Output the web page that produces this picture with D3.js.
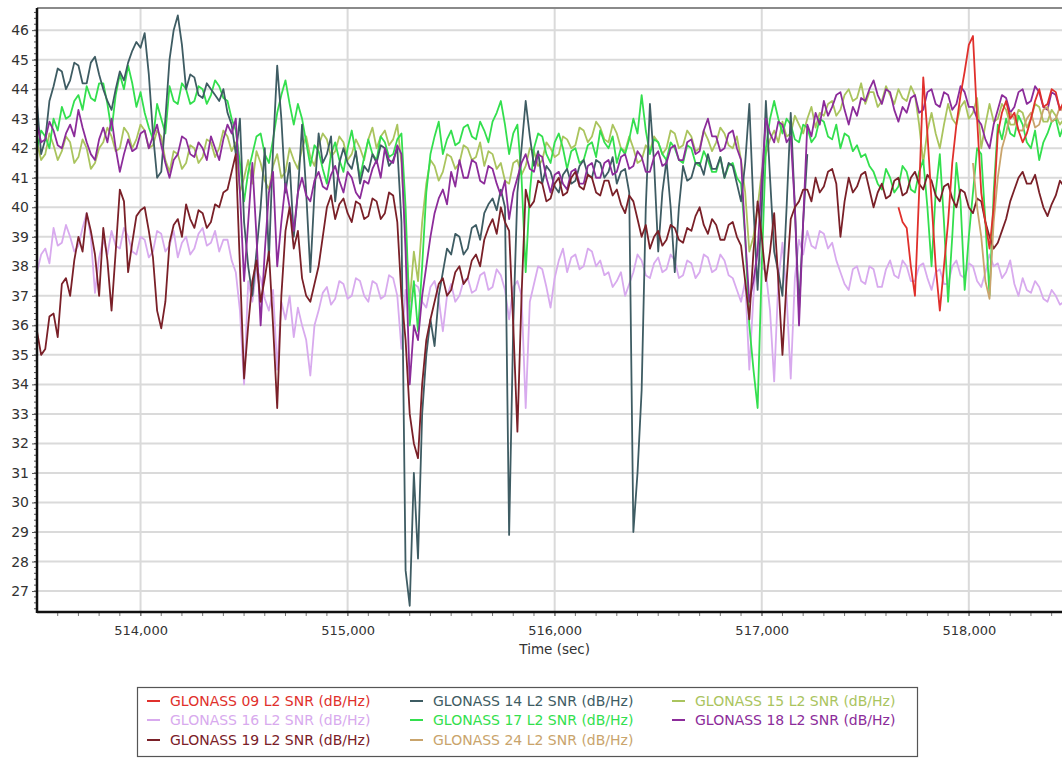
<!DOCTYPE html>
<html>
<head>
<meta charset="utf-8">
<script src="https://cdn.jsdelivr.net/npm/d3@7"></script>
<style>
  html, body { margin: 0; padding: 0; background: #fff; }
  svg { display: block; font-family: "DejaVu Sans", Verdana, sans-serif; }
</style>
</head>
<body>
<svg id="chart" width="1062" height="758"></svg>
<script>
// ---------------- DATA ----------------
const sampleStart = 513500;   // seconds
const sampleStep = 20;        // seconds between samples

const seriesNames = [
  "GLONASS 09 L2 SNR (dB/Hz)", "GLONASS 14 L2 SNR (dB/Hz)", "GLONASS 15 L2 SNR (dB/Hz)",
  "GLONASS 16 L2 SNR (dB/Hz)", "GLONASS 17 L2 SNR (dB/Hz)", "GLONASS 18 L2 SNR (dB/Hz)",
  "GLONASS 19 L2 SNR (dB/Hz)", "GLONASS 24 L2 SNR (dB/Hz)"
];
const seriesColors = ["#e0302c", "#3e5c63", "#aac45e", "#d8aaee", "#33df4e", "#8c2c9a", "#7a2028", "#c9a46c"];

const xTicks = [514000, 515000, 516000, 517000, 518000];
const yTicks = [27, 28, 29, 30, 31, 32, 33, 34, 35, 36, 37, 38, 39, 40, 41, 42, 43, 44, 45, 46];

// GLONASS 09 starts at 517660 s
const g09Start = 517660;
const g09 = [40.0,39.5, 39.3,38.0, 37.0,40.5, 44.4,42.5, 40.2,38.0, 36.5,38.0, 39.5,41.5, 42.8,43.8, 44.6,45.5, 45.8,43.0,
  40.5,39.5, 38.6,40.0, 42.5,43.2, 43.6,43.0, 43.2,42.6, 42.2,42.5, 43.0,43.6, 44.0,43.4, 43.5,44.0, 43.9,43.3, 43.6];

// GLONASS 14 (ends ~517,200 s)
const g14Start = 513500;
const g14 = [
  43.5,41.8, 42.3,43.6, 44.1,44.7, 44.6,44.0, 44.3,44.9, 44.8,44.2, 44.2,44.9, 45.1,44.5, 44.0,43.6, 43.3,44.0,
  44.6,44.3, 44.9,45.3, 45.6,45.4, 45.9,44.5, 42.5,41.0, 41.2,43.0, 45.0,46.0, 46.5,45.5, 44.0,44.5, 44.4,43.8,
  43.7,44.2, 44.0,43.8, 43.6,44.0, 43.2,42.8, 41.8,43.0, 39.5,38.0, 37.0,38.5, 40.0,42.0, 38.2,42.0, 44.8,43.0,
  40.5,41.5, 39.0,40.5, 42.8,40.5, 37.8,40.5, 42.5,41.5, 41.8,42.4, 40.2,41.5, 42.0,41.5, 41.3,41.9, 40.8,41.4,
  41.2,41.8, 41.5,42.1, 42.0,41.4, 41.6,42.0, 39.5,27.7, 26.5,31.0, 28.1,33.0, 35.0,36.2, 35.3,37.0, 37.8,38.6,
  38.4,39.1, 39.0,38.4, 38.6,39.3, 39.4,38.9, 39.8,40.1, 40.3,39.9, 40.6,40.0, 28.9,36.0, 40.5,42.0, 43.6,42.4,
  41.4,41.9, 40.8,41.4, 41.2,40.7, 40.5,41.1, 41.3,40.8, 40.9,41.4, 41.6,41.1, 41.0,41.6, 41.5,41.0, 41.2,41.7,
  40.8,41.2, 41.3,40.5, 29.0,31.0, 33.8,40.0, 43.5,41.5, 38.5,40.5, 41.6,40.0, 37.8,40.0, 41.4,40.9, 41.0,41.5,
  41.5,41.1, 41.8,41.3, 41.3,41.7, 41.0,41.5, 41.4,40.8, 40.2,41.5, 43.5,40.0, 37.2,40.0, 43.6,41.0, 38.5,37.8,
  37.0,40.0, 43.2,40.0, 36.5,39.5, 41.8
];

const g15 = [
  42.2,41.6, 41.8,42.5, 42.1,41.6, 41.9,42.4, 42.2,41.5, 41.7,42.3, 42.0,41.3, 41.5,42.0, 42.2,42.7, 42.4,41.9,
  42.0,42.7, 42.5,42.0, 42.3,42.8, 42.6,42.0, 42.1,42.6, 42.4,41.6, 41.2,41.9, 41.8,41.3, 41.5,42.1, 42.0,41.5,
  41.7,42.3, 42.2,41.7, 42.0,42.6, 42.4,41.9, 42.2,40.5, 41.0,41.6, 40.8,41.9, 41.5,40.9, 40.6,41.4, 41.8,41.0,
  41.2,42.0, 41.6,41.3, 42.0,42.4, 41.7,41.4, 42.1,42.5, 42.3,41.7, 41.9,42.4, 42.2,41.6, 41.8,42.3, 42.0,41.6,
  42.3,42.7, 42.0,42.4, 42.6,42.1, 42.3,42.8, 41.5,39.0, 36.8,38.5, 37.5,39.5, 40.8,41.6, 41.4,40.9, 41.2,41.8,
  41.7,41.3, 41.5,42.1, 42.0,41.6, 41.7,42.2, 41.4,41.9, 41.8,41.3, 41.5,40.9, 40.8,41.5, 41.6,41.1, 41.4,42.0,
  41.9,41.4, 41.6,42.2, 42.0,41.7, 41.8,42.4, 42.3,42.0, 42.1,42.7, 42.6,42.2, 42.4,42.9, 42.7,42.3, 42.2,42.8,
  42.5,42.0, 41.9,42.4, 42.0,41.5, 41.6,42.1, 41.9,42.4, 42.2,41.8, 42.0,42.6, 42.5,42.0, 42.1,42.6, 42.4,41.9,
  42.0,42.6, 42.3,41.9, 42.2,42.7, 42.5,42.1, 42.0,42.4, 41.6,40.5, 38.5,39.0, 40.0,41.2, 41.8,42.3, 42.6,42.2,
  42.9,42.4, 42.5,43.1, 42.8,42.5, 43.0,43.4, 42.7,43.2, 43.1,43.5, 43.6,43.1, 43.3,43.8, 44.0,43.6, 43.7,44.2,
  43.5,43.9, 43.9,43.4, 43.6,44.1, 43.8,43.5, 44.0,43.7, 43.6,44.1, 43.8,42.8, 41.5,42.6, 43.2,42.5, 42.0,42.8,
  43.5,43.0, 42.8,43.4, 43.6,43.0, 43.2,43.7, 42.0,42.8, 43.5,42.9, 43.0,43.5, 43.3,42.8, 42.8,43.3, 43.2,42.7,
  43.0,43.5, 43.4,42.9, 42.9,43.3, 43.1,42.8, 43.0
];

const g16 = [
  37.8,38.4, 38.6,38.1, 39.3,38.7, 38.8,39.4, 39.0,38.5, 38.7,39.3, 39.8,39.0, 37.1,38.3, 38.9,38.4, 39.2,38.7,
  38.6,39.3, 39.0,38.5, 38.4,39.0, 38.9,38.3, 38.5,39.2, 39.1,38.5, 38.7,39.2, 38.3,38.8, 39.0,38.4, 38.6,39.1,
  39.3,38.7, 38.8,39.2, 38.5,38.9, 38.9,38.2, 37.8,36.5, 34.0,37.5, 36.8,37.9, 37.6,36.9, 36.5,37.2, 34.5,36.8,
  36.2,37.0, 35.6,36.6, 36.0,35.5, 34.3,36.0, 36.5,37.1, 37.3,36.7, 36.9,37.5, 37.4,36.9, 37.0,37.6, 37.5,37.0,
  36.8,37.5, 37.4,36.9, 37.0,37.7, 37.6,37.0, 35.2,37.2, 36.5,37.4, 37.3,36.8, 36.6,37.3, 37.5,36.9, 35.8,37.0,
  37.4,36.8, 37.0,37.5, 37.6,37.1, 37.2,37.7, 37.8,37.2, 37.3,37.9, 37.7,37.2, 36.2,37.3, 37.5,37.0, 33.2,36.8,
  37.4,38.0, 37.9,37.3, 36.6,37.6, 38.2,38.6, 37.8,38.3, 38.4,37.9, 38.0,38.6, 38.5,38.0, 38.2,37.7, 37.8,37.3,
  37.5,37.8, 37.0,37.4, 37.8,38.4, 38.2,37.7, 37.6,38.1, 38.3,37.8, 37.9,38.4, 38.2,37.6, 37.7,38.2, 38.1,37.6,
  37.8,38.4, 38.3,37.8, 37.9,38.4, 38.2,37.7, 37.6,37.2, 36.8,37.5, 34.5,37.0, 38.6,38.0, 37.8,36.5, 34.1,37.5,
  38.8,37.0, 34.2,37.6, 38.9,38.4, 39.2,38.7, 38.6,39.2, 39.1,38.6, 38.8,38.2, 37.8,37.4, 37.2,37.9, 38.0,37.5,
  37.4,38.0, 37.9,37.3, 37.3,37.9, 38.2,37.7, 37.6,38.2, 38.0,37.5, 37.5,38.0, 38.1,37.6, 37.2,37.8, 37.9,37.4,
  37.4,38.0, 38.2,37.7, 37.6,38.1, 38.0,37.5, 37.3,37.8, 38.4,38.0, 38.1,37.6, 37.8,38.2, 37.4,37.0, 37.6,37.2,
  37.1,37.5, 37.3,36.9, 36.8,37.2, 37.0,36.7, 36.8
];

const g17 = [
  42.0,42.6, 42.4,42.0, 43.0,42.6, 43.4,43.0, 43.1,43.6, 43.8,43.3, 44.1,43.7, 43.6,44.2, 44.2,43.5, 42.6,43.8,
  44.5,44.0, 44.8,44.2, 43.4,43.9, 43.2,42.7, 42.3,43.5, 43.0,42.5, 44.1,43.6, 43.5,44.2, 44.0,43.5, 43.6,44.1,
  44.0,43.5, 43.8,44.3, 44.1,43.7, 43.6,43.0, 42.6,41.5, 40.2,41.2, 41.8,42.4, 42.5,41.8, 41.5,42.3, 43.2,43.8,
  44.3,43.5, 42.8,43.5, 43.0,42.2, 41.4,42.1, 41.9,41.3, 40.8,41.8, 42.2,41.6, 41.2,42.0, 42.6,41.8, 41.0,41.7,
  42.3,41.8, 41.6,42.4, 42.2,41.7, 41.8,42.3, 42.5,40.0, 36.0,37.5, 35.8,38.0, 40.5,41.8, 42.4,42.9, 41.8,42.3,
  42.6,42.1, 42.2,42.7, 42.8,42.4, 42.3,42.9, 42.6,42.2, 42.9,43.2, 43.6,42.8, 41.8,42.5, 42.8,41.0, 37.8,40.5,
  42.0,42.5, 42.4,41.8, 41.5,42.2, 42.5,42.0, 41.3,41.9, 42.0,41.5, 41.6,42.1, 42.2,41.7, 42.6,42.2, 42.0,42.4,
  41.5,42.0, 41.8,42.3, 43.0,42.5, 43.8,42.6, 41.8,42.3, 42.2,41.8, 41.6,42.2, 42.0,41.6, 41.5,42.1, 42.0,41.5,
  41.4,41.9, 41.6,41.2, 41.2,41.7, 41.0,41.4, 41.5,41.0, 40.8,39.0, 36.0,34.5, 33.2,38.0, 42.0,43.0, 43.6,43.0,
  42.5,43.0, 42.8,42.3, 42.2,42.8, 42.7,42.2, 42.4,43.0, 42.9,42.4, 42.3,42.8, 42.0,42.5, 42.4,41.9, 42.1,41.7,
  41.8,41.4, 41.2,40.8, 40.6,41.3, 41.0,40.5, 40.7,41.4, 41.2,40.6, 40.5,41.2, 41.6,40.0, 38.0,40.5, 41.8,39.5,
  36.8,39.0, 41.5,40.2, 37.2,39.0, 40.5,42.0, 41.8,39.5, 37.0,40.5, 42.8,42.3, 43.0,42.5, 42.4,43.1, 42.8,42.2,
  42.0,42.6, 41.6,42.2, 42.5,42.9, 43.0,42.4, 42.8
];

const g18 = [
  42.8,42.2, 42.3,42.9, 42.6,42.1, 42.0,42.5, 42.8,42.4, 43.3,42.7, 42.2,41.8, 41.6,42.3, 42.7,42.2, 43.0,42.0,
  41.2,41.8, 42.3,41.9, 42.0,42.5, 42.6,42.0, 42.4,42.8, 42.1,41.5, 41.0,41.6, 41.8,42.4, 42.3,41.8, 41.7,42.2,
  42.0,41.6, 42.4,42.0, 41.6,42.3, 42.8,42.5, 43.0,40.5, 37.5,39.5, 41.5,39.0, 36.0,38.5, 40.5,41.2, 38.0,39.5,
  40.8,40.0, 39.2,40.5, 41.0,40.4, 40.2,40.9, 41.2,40.7, 40.6,41.1, 41.4,40.9, 40.5,41.2, 41.0,40.5, 40.3,40.9,
  40.8,41.3, 41.6,41.0, 42.0,41.6, 41.5,42.1, 41.8,38.5, 34.0,36.0, 35.5,37.0, 38.0,39.0, 39.8,40.3, 40.6,40.1,
  41.2,40.7, 41.6,41.0, 41.0,41.6, 41.5,40.9, 40.8,41.4, 41.3,40.8, 40.4,40.9, 39.6,40.5, 41.0,41.5, 41.8,41.3,
  41.2,41.8, 41.7,41.0, 40.5,41.1, 41.2,40.8, 40.6,41.2, 41.3,40.8, 40.8,41.4, 41.5,41.0, 41.0,41.5, 41.6,41.1,
  41.2,41.7, 41.8,41.3, 41.4,41.9, 41.7,41.2, 41.2,41.7, 41.9,41.4, 41.5,42.0, 42.1,41.6, 41.6,42.2, 42.3,41.8,
  41.9,42.6, 43.0,42.4, 42.4,41.9, 42.0,42.5, 42.6,42.0, 41.6,39.0, 36.8,37.5, 38.5,41.0, 43.0,42.5, 42.2,42.9,
  42.8,42.2, 42.4,40.0, 36.0,39.5, 42.8,42.4, 43.2,42.8, 43.6,43.1, 43.4,43.8, 43.9,43.3, 42.8,43.4, 43.1,43.7,
  43.6,44.0, 44.3,43.8, 43.5,44.0, 43.9,43.3, 42.9,43.4, 43.2,43.7, 43.8,43.2, 43.3,43.9, 44.0,43.5, 43.4,43.9,
  43.8,43.3, 43.5,44.1, 43.9,43.4, 43.4,43.0, 42.8,42.3, 42.0,42.8, 43.3,43.8, 43.7,43.2, 43.4,43.9, 44.0,43.5,
  43.6,44.1, 43.9,43.4, 43.3,43.9, 43.8,43.3, 43.5
];

const g19 = [
  35.8,35.0, 35.2,36.3, 36.4,35.6, 37.4,37.6, 37.0,38.2, 39.0,38.5, 39.8,39.2, 38.4,37.0, 39.3,38.2, 36.5,38.5,
  40.6,40.2, 37.8,38.8, 39.7,39.9, 40.0,39.2, 38.3,36.5, 35.9,36.8, 38.8,39.4, 39.6,39.0, 40.1,39.6, 39.3,39.9,
  39.8,39.3, 39.5,40.1, 40.0,40.5, 40.6,41.2, 41.8,38.0, 34.2,36.0, 37.5,38.2, 36.8,37.6, 38.5,36.0, 33.2,37.0,
  39.2,40.0, 38.6,39.2, 37.6,37.0, 36.8,37.4, 38.0,39.0, 40.0,40.4, 39.6,40.1, 40.3,39.8, 39.5,40.2, 40.1,39.6,
  39.7,40.3, 40.2,39.6, 39.8,40.5, 40.4,39.5, 37.0,35.5, 33.0,32.0, 31.5,34.0, 35.5,36.2, 36.8,37.4, 37.6,37.0,
  37.2,37.8, 38.0,37.4, 37.6,38.2, 38.4,38.0, 38.9,39.3, 39.6,39.1, 40.0,39.5, 39.2,36.0, 32.4,37.0, 40.6,40.0,
  40.2,40.9, 40.8,40.2, 40.3,40.8, 41.0,40.4, 40.5,41.0, 41.2,40.7, 40.6,41.1, 41.0,40.5, 40.4,40.9, 40.9,40.4,
  40.6,40.1, 39.8,40.4, 40.2,39.6, 39.0,39.4, 38.6,39.0, 39.2,38.7, 38.9,39.4, 39.3,38.9, 38.8,39.3, 39.2,39.7,
  40.0,39.4, 39.1,39.6, 39.4,38.9, 38.9,39.4, 39.5,39.0, 38.7,37.5, 36.2,38.5, 40.2,39.0, 37.5,38.5, 39.8,37.5,
  35.0,37.5, 39.6,40.0, 40.2,40.6, 40.6,40.2, 41.0,40.5, 40.7,41.2, 41.3,40.8, 39.0,40.2, 41.0,40.5, 40.7,41.1,
  41.2,40.6, 40.0,40.5, 40.8,40.3, 40.4,40.9, 41.0,40.4, 40.5,41.0, 41.2,40.8, 40.6,41.1, 40.9,40.4, 40.2,40.7,
  40.8,40.3, 40.0,40.6, 40.5,40.0, 39.8,40.3, 40.2,39.5, 39.0,38.6, 38.8,39.2, 39.6,40.2, 40.6,41.0, 41.2,40.8,
  40.8,41.1, 40.5,40.0, 39.7,40.1, 40.4,40.9, 40.7
];

// GLONASS 24 starts at 518020 s
const g24Start = 518020;
const g24 = [41.5,40.0, 39.0,37.5, 36.9,39.5, 41.0,42.0, 42.5,43.2, 43.0,42.6, 42.6,43.0, 43.2,42.7, 42.8,43.3, 43.4,42.9, 43.0,43.4, 43.2];

// -------------- BUILD --------------
function toPoints(start, vals) {
  return vals.map((v, i) => ({ t: start + i * sampleStep, v: v }));
}
const seriesData = [
  toPoints(g09Start, g09),
  toPoints(g14Start, g14),
  toPoints(sampleStart, g15),
  toPoints(sampleStart, g16),
  toPoints(sampleStart, g17),
  toPoints(sampleStart, g18),
  toPoints(sampleStart, g19),
  toPoints(g24Start, g24)
];
// draw order (back to front)
const drawOrder = [3, 2, 4, 1, 5, 6, 7, 0];

const svg = d3.select("#chart");
const pL = 37, pR = 1062, pT = 8, pB = 612;

const x = d3.scaleLinear().domain([513500, 518450]).range([pL, pR]);
const y = d3.scaleLinear().domain([26.29, 46.75]).range([pB, pT]);

// clip
svg.append("defs").append("clipPath").attr("id", "plotclip")
  .append("rect").attr("x", pL).attr("y", pT).attr("width", pR - pL).attr("height", pB - pT);

// gridlines
const grid = svg.append("g");
grid.selectAll("line.h").data(yTicks).join("line")
  .attr("x1", pL).attr("x2", pR)
  .attr("y1", d => y(d)).attr("y2", d => y(d))
  .attr("stroke", "#dadada").attr("stroke-width", 2);
grid.selectAll("line.v").data(xTicks).join("line")
  .attr("x1", d => x(d)).attr("x2", d => x(d))
  .attr("y1", pT).attr("y2", pB)
  .attr("stroke", "#dadada").attr("stroke-width", 2);

// top border
svg.append("line").attr("x1", pL).attr("x2", pR).attr("y1", pT).attr("y2", pT)
  .attr("stroke", "#8a8a8a").attr("stroke-width", 2);

// lines
const lineGen = d3.line().x(d => x(d.t)).y(d => y(d.v));
const plot = svg.append("g").attr("clip-path", "url(#plotclip)");
drawOrder.forEach(k => {
  plot.append("path").datum(seriesData[k])
    .attr("d", lineGen)
    .attr("fill", "none")
    .attr("stroke", seriesColors[k])
    .attr("stroke-width", 1.8)
    .attr("stroke-linejoin", "round");
});

// Y axis
const yMinor = d3.range(26.4, 46.75, 0.2);
svg.append("g").selectAll("line").data(yMinor).join("line")
  .attr("x1", pL - 3).attr("x2", pL)
  .attr("y1", d => y(d)).attr("y2", d => y(d))
  .attr("stroke", "#555").attr("stroke-width", 1);
const yAxis = svg.append("g").attr("transform", `translate(${pL},0)`)
  .call(d3.axisLeft(y).tickValues(yTicks).tickSize(5).tickPadding(3).tickFormat(d3.format("d")));
yAxis.select(".domain").remove();
yAxis.selectAll("text").attr("font-size", 14).attr("fill", "#333").attr("font-family", "DejaVu Sans");
yAxis.selectAll(".tick line").attr("stroke", "#555");

// X axis
const xMinor = d3.range(513600, 518450, 100);
svg.append("g").selectAll("line").data(xMinor).join("line")
  .attr("x1", d => x(d)).attr("x2", d => x(d))
  .attr("y1", pB).attr("y2", pB + 4)
  .attr("stroke", "#777").attr("stroke-width", 1);
const xAxis = svg.append("g").attr("transform", `translate(0,${pB})`)
  .call(d3.axisBottom(x).tickValues(xTicks).tickSize(4).tickPadding(10).tickFormat(d3.format(",")));
xAxis.select(".domain").remove();
xAxis.selectAll("text").attr("font-size", 13).attr("fill", "#333").attr("font-family", "DejaVu Sans");
xAxis.selectAll(".tick line").attr("stroke", "#777");

// axis lines
svg.append("line").attr("x1", pL).attr("x2", pL).attr("y1", pT).attr("y2", pB + 1)
  .attr("stroke", "#111").attr("stroke-width", 2.5);
svg.append("line").attr("x1", pL).attr("x2", pR).attr("y1", pB).attr("y2", pB)
  .attr("stroke", "#111").attr("stroke-width", 2.5);

// axis title
svg.append("text").attr("x", x(516000)).attr("y", 654)
  .attr("text-anchor", "middle").attr("font-size", 13.5).attr("fill", "#333")
  .text("Time (sec)");

// legend
const lg = svg.append("g");
lg.append("rect").attr("x", 137.5).attr("y", 687.5).attr("width", 780).attr("height", 69)
  .attr("fill", "#fff").attr("stroke", "#555").attr("stroke-width", 1.2);
const colX = [147, 410, 672];
const rowY = [701, 720, 740];
seriesNames.forEach((name, i) => {
  const cx = colX[i % 3], cy = rowY[Math.floor(i / 3)];
  lg.append("line").attr("x1", cx).attr("x2", cx + 13).attr("y1", cy).attr("y2", cy)
    .attr("stroke", seriesColors[i]).attr("stroke-width", 2);
  lg.append("text").attr("x", cx + 23).attr("y", cy + 5)
    .attr("font-size", 14).attr("fill", seriesColors[i])
    .text(name);
});
</script>
</body>
</html>
